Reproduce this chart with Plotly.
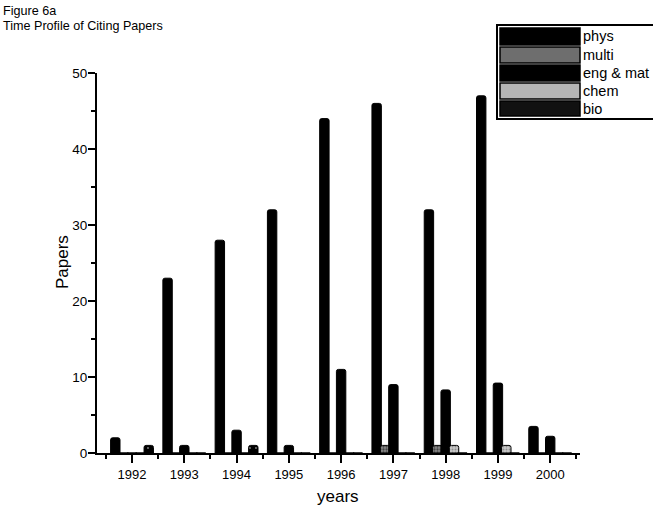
import plotly.graph_objects as go

years = [1992, 1993, 1994, 1995, 1996, 1997, 1998, 1999, 2000]
series_names = ["phys", "multi", "eng & mat", "chem", "bio"]
phys = [2, 23, 28, 32, 44, 46, 32, 47, 3.5]
multi = [0, 0, 0, 0, 0, 1, 1, 0, 0]
eng_mat = [0, 1, 3, 1, 11, 9, 8.3, 9.2, 2.2]
chem = [0, 0, 0, 0, 0, 0, 1, 1, 0]
bio = [1, 0, 1, 0, 0, 0, 0, 0, 0]
y_ticks = [0, 10, 20, 30, 40, 50]

W, H = 653, 509
L, R, T, B = 97, 580, 73, 453  # plot area pixels

values = [phys, multi, eng_mat, chem, bio]
centers = [-0.32, -0.16, 0.0, 0.16, 0.32]
bw = 0.18
patterns = [
    None,
    dict(shape=".", fgcolor="#000000", bgcolor="#8a8a8a", size=3, solidity=0.45),
    None,
    dict(shape=".", fgcolor="#555555", bgcolor="#c8c8c8", size=3, solidity=0.35),
    dict(shape=".", fgcolor="#ffffff", bgcolor="#000000", size=6, solidity=0.08),
]

fig = go.Figure()
for name, vals, c, pat in zip(series_names, values, centers, patterns):
    marker = dict(color="#000000", line=dict(color="#000000", width=1), cornerradius=2)
    if pat:
        marker["pattern"] = pat
    fig.add_trace(go.Bar(
        x=years, y=vals, name=name, width=bw, offset=c - bw / 2,
        marker=marker, showlegend=False,
    ))

def px(x):
    return (x - L) / (R - L)

def py(y):
    return (B - y) / (B - T)

FONT = "Liberation Sans, Arial"

# Manual legend (box, swatches, labels)
shapes = [dict(type="rect", xref="paper", yref="paper",
               x0=px(497), x1=px(662), y0=py(119), y1=py(25),
               line=dict(color="#000000", width=2), fillcolor="#ffffff", layer="above")]
swatch_fill = ["#000000", "#6e6e6e", "#000000", "#b5b5b5", "#111111"]
sw_rows = [(28, 45), (47, 63), (65, 81), (83, 99), (101, 116)]
annotations = []
for name, fillc, (y0, y1) in zip(series_names, swatch_fill, sw_rows):
    shapes.append(dict(type="rect", xref="paper", yref="paper",
                       x0=px(500), x1=px(580), y0=py(y1), y1=py(y0),
                       line=dict(color="#000000", width=1.5), fillcolor=fillc, layer="above"))
    annotations.append(dict(xref="paper", yref="paper", x=px(581), y=py((y0 + y1) / 2),
                            xanchor="left", yanchor="middle", text=name, showarrow=False,
                            font=dict(family=FONT, size=14.5, color="#000000")))

# Titles
annotations.append(dict(xref="paper", yref="paper", x=px(1), y=py(11), xanchor="left",
                        yanchor="middle", text="Figure 6a", showarrow=False,
                        font=dict(family=FONT, size=12.6, color="#000000")))
annotations.append(dict(xref="paper", yref="paper", x=px(1), y=py(26), xanchor="left",
                        yanchor="middle", text="Time Profile of Citing Papers", showarrow=False,
                        font=dict(family=FONT, size=12.6, color="#000000")))
annotations.append(dict(xref="paper", yref="paper", x=px(338), y=py(497), xanchor="center",
                        yanchor="middle", text="years", showarrow=False,
                        font=dict(family=FONT, size=17, color="#000000")))
annotations.append(dict(xref="paper", yref="paper", x=px(62), y=py(262), xanchor="center",
                        yanchor="middle", text="Papers", showarrow=False, textangle=-90,
                        font=dict(family=FONT, size=17, color="#000000")))

fig.update_layout(
    width=W, height=H,
    margin=dict(l=L, r=W - R, t=T, b=H - B, pad=0, autoexpand=False),
    paper_bgcolor="#ffffff", plot_bgcolor="#ffffff",
    barmode="overlay",
    showlegend=False,
    font=dict(family=FONT, color="#000000"),
    shapes=shapes, annotations=annotations,
)
fig.update_xaxes(
    range=[1991.33, 2000.57], tickmode="array", tickvals=years,
    ticktext=[str(y) for y in years],
    ticks="outside", ticklen=8, tickwidth=2, tickcolor="#000000",
    minor=dict(ticks="outside", ticklen=4, tickwidth=1.5, tickcolor="#000000",
               tick0=1991.5, dtick=1),
    showline=True, linecolor="#000000", linewidth=2, showgrid=False, zeroline=False,
    tickfont=dict(size=13, color="#000000"), automargin=False,
)
fig.update_yaxes(
    range=[0, 50], tickvals=y_ticks,
    ticks="outside", ticklen=7, tickwidth=2, tickcolor="#000000",
    minor=dict(ticks="outside", ticklen=4, tickwidth=1.5, tickcolor="#000000",
               tick0=0, dtick=5),
    showline=True, linecolor="#000000", linewidth=2, showgrid=False, zeroline=False,
    tickfont=dict(size=13.5, color="#000000"), automargin=False,
    ticklabelstandoff=-2,
)

fig.write_html(
    "out.html",
    config={"displayModeBar": False},
    post_script="document.body.style.margin='0px';document.body.style.overflow='hidden';",
)
